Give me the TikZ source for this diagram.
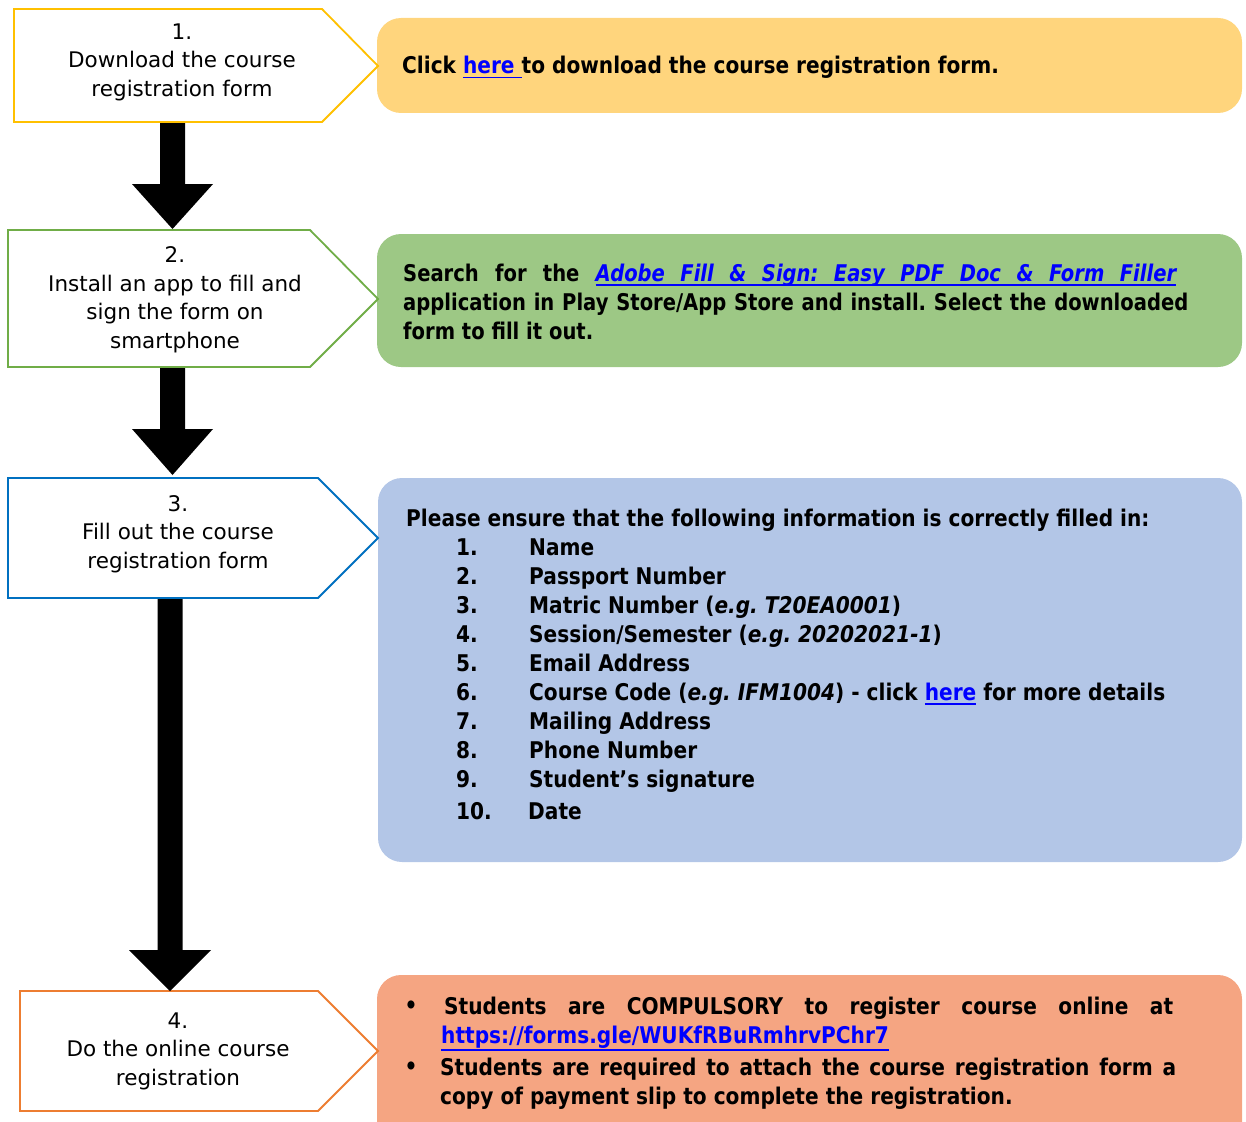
\documentclass[tikz,border=0pt]{standalone}
\usepackage{fontspec}
\setmainfont{DejaVu Sans}
\newfontfamily\rfont{DejaVu Sans}[FakeStretch=0.875]
\newfontfamily\rfontb{DejaVu Sans}[FakeStretch=0.85]
\usetikzlibrary{calc}
\definecolor{cY}{HTML}{FFC000}
\definecolor{cG}{HTML}{70AD47}
\definecolor{cB}{HTML}{0070C0}
\definecolor{cO}{HTML}{ED7D31}
\definecolor{fY}{HTML}{FFD57D}
\definecolor{fG}{HTML}{9DC885}
\definecolor{fB}{HTML}{B3C6E7}
\definecolor{fO}{HTML}{F5A582}
\definecolor{lnkblue}{HTML}{0000FF}
\newsavebox\ulbox
\newcommand\myul[2][-4.5pt]{\sbox\ulbox{#2}\rlap{\rule[#1]{\wd\ulbox}{1.8pt}}\usebox\ulbox}
\newcommand\lnk[2][-4.5pt]{\textcolor{lnkblue}{\myul[#1]{#2}}}
\newcommand\lnki[1]{\textcolor{lnkblue}{\itshape\myul{\spaceskip=15.5pt\relax #1}}}
\newcommand\itm[2]{\hspace*{50pt}\makebox[73pt][l]{#1}#2}
\newcommand\blockarr[4]{% start, tip, head length, head half width
  \fill ($(#1)+(-12.5,0)$) -- ($(#1)+(12.5,0)$) -- ($(#2)+(12.5,-#3)$) -- ($(#2)+(#4,-#3)$)
    -- (#2) -- ($(#2)+(-#4,-#3)$) -- ($(#2)+(-12.5,-#3)$) -- cycle;}
\begin{document}
\begin{tikzpicture}[x=1pt,y=-1pt,
  stepbox/.style={line width=1.8pt, fill=white},
  infobox/.style={rounded corners=24pt},
  lbl/.style={align=center, inner sep=0pt, font=\fontsize{21.5}{28.5}\selectfont},
  rtxt/.style={inner sep=0pt, font=\rfont\bfseries\fontsize{23}{29}\selectfont\frenchspacing}]
\useasboundingbox (0,0) rectangle (1246,1121);
% info boxes
\fill[fY, infobox] (377,18) rectangle (1242,113);
\fill[fG, infobox] (377,234) rectangle (1242,367);
\fill[fB, infobox] (378,478) rectangle (1242,862);
\fill[fO, infobox] (377,975) rectangle (1242,1150);
% step boxes
\draw[stepbox, draw=cY] (14,9) -- (322,9) -- (378,66) -- (322,122) -- (14,122) -- cycle;
\draw[stepbox, draw=cG] (8,230) -- (310,230) -- (378,299) -- (310,367) -- (8,367) -- cycle;
\draw[stepbox, draw=cB] (8,478) -- (318,478) -- (378,538) -- (318,598) -- (8,598) -- cycle;
\draw[stepbox, draw=cO] (20,991) -- (318,991) -- (378,1051) -- (318,1111) -- (20,1111) -- cycle;
% arrows
\coordinate (a1s) at (172.5,123); \coordinate (a1e) at (172.5,229);
\coordinate (a2s) at (172.5,368); \coordinate (a2e) at (172.5,475);
\coordinate (a3s) at (170,599);   \coordinate (a3e) at (170,991);
\blockarr{a1s}{a1e}{45}{40.5}
\blockarr{a2s}{a2e}{46}{40.5}
\blockarr{a3s}{a3e}{41}{41}
% step texts
\node[lbl] (s1) at (182,62) {1.\\Download the course\\registration form};
\node[lbl] (s2) at (175,300) {2.\\Install an app to fill and\\sign the form on\\smartphone};
\node[lbl] (s3) at (178,534) {3.\\Fill out the course\\registration form};
\node[lbl] (s4) at (178,1051) {4.\\Do the online course\\registration};
% info texts
\node[rtxt, anchor=base west] (ia) at (402,74) {Click \lnk{here }to download the course registration form.};
\node[rtxt, font=\rfontb\bfseries\fontsize{23}{29}\selectfont\frenchspacing, anchor=north west, text width=785pt, align=justify] (ib) at (403,263.5)
  {Search for the \lnki{Adobe Fill \& Sign: Easy PDF Doc \& Form Filler}\hspace*{12pt}\linebreak
   application in Play Store/App Store and install. Select the downloaded\linebreak form to fill it out.};
\node[rtxt, anchor=north west, align=left] (ic) at (406,508.5)
  {Please ensure that the following information is correctly filled in:\\
   \itm{1.}{Name}\\
   \itm{2.}{Passport Number}\\
   \itm{3.}{Matric Number (\textit{e.g. T20EA0001})}\\
   \itm{4.}{Session/Semester (\textit{e.g. 20202021-1})}\\
   \itm{5.}{Email Address}\\
   \itm{6.}{Course Code (\textit{e.g. IFM1004}) - click \lnk{here} for more details}\\
   \itm{7.}{Mailing Address}\\
   \itm{8.}{Phone Number}\\
   \itm{9.}{Student’s signature}\\[3pt]
   \hspace*{50pt}\makebox[72pt][l]{10.}Date};
\node[rtxt] (b1) at (411,1007) {•};
\node[rtxt] (b2) at (411,1068) {•};
\node[rtxt, anchor=north west, text width=729pt, align=justify] (id1) at (444,996.5)
  {Students are COMPULSORY to register course online at\linebreak
   \hspace*{-3pt}\lnk[-8pt]{https://forms.gle/WUKfRBuRmhrvPChr7}};
\node[rtxt, anchor=north west, text width=736pt, align=justify] (id2) at (440,1057.5)
  {Students are required to attach the course registration form a\linebreak
   copy of payment slip to complete the registration.};
\end{tikzpicture}
\end{document}
